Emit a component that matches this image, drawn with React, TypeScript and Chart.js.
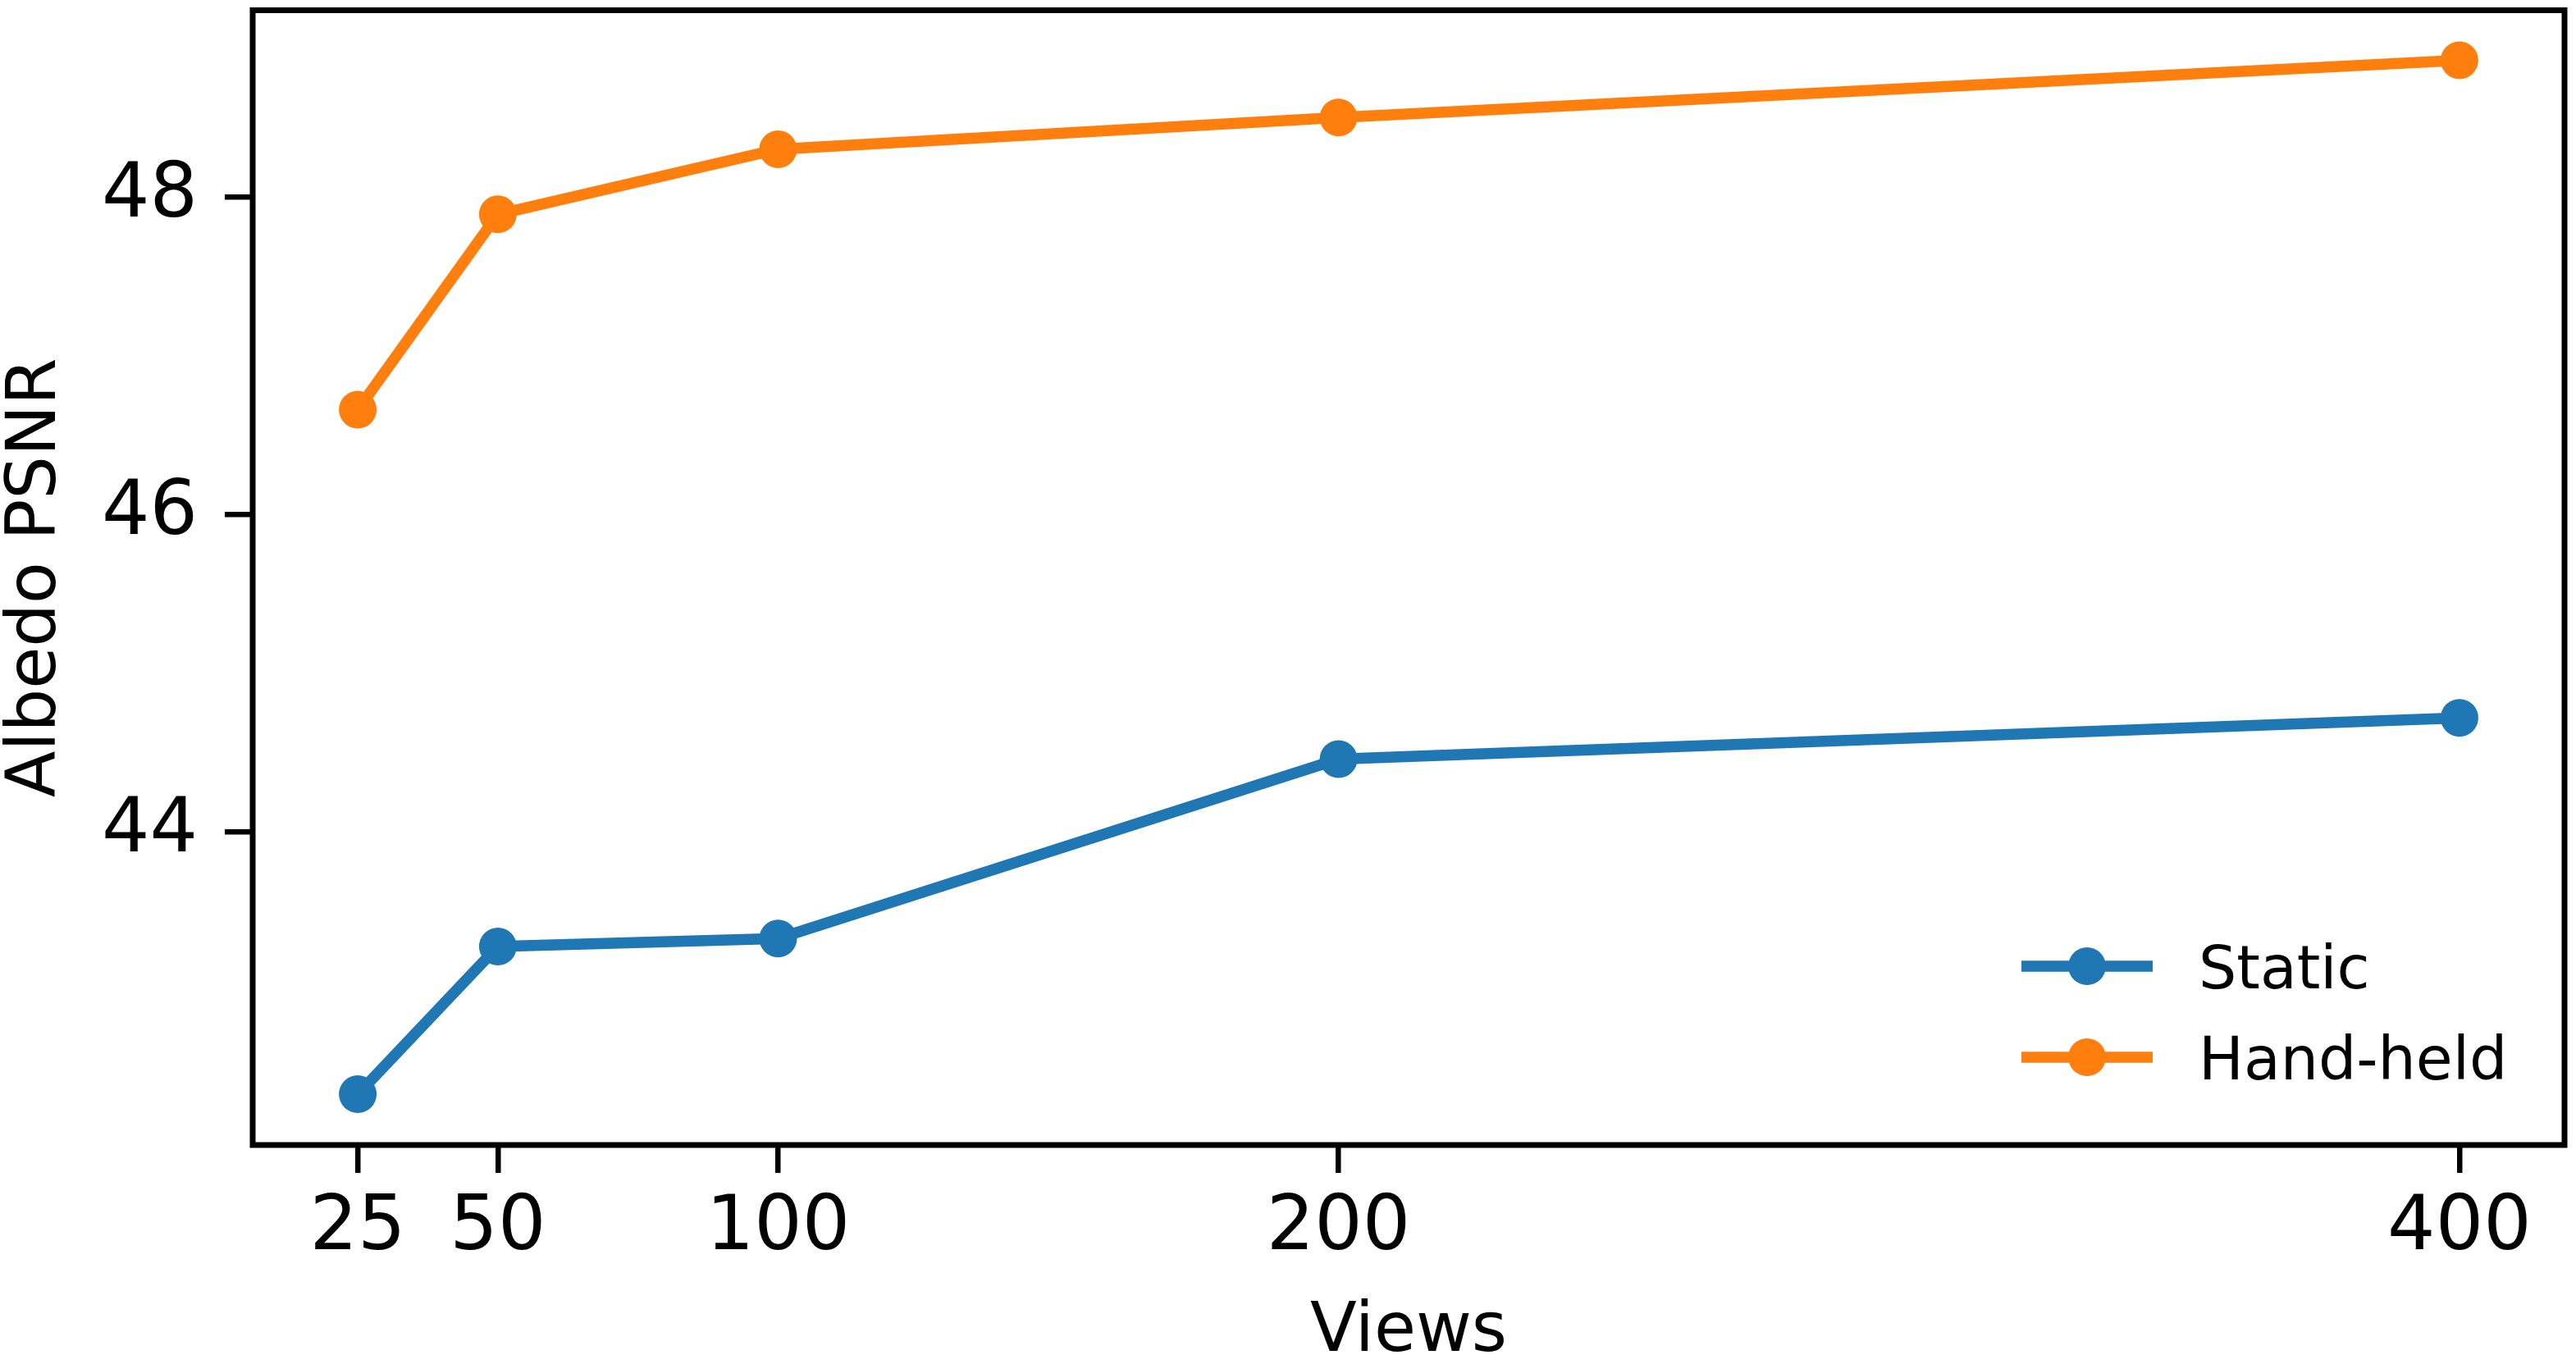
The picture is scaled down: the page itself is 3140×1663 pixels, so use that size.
import React, { useEffect, useRef } from "react";
import { Chart, registerables } from "chart.js";

Chart.register(...registerables);

// Number of views used for reconstruction
const views = [25, 50, 100, 200, 400];
// Albedo PSNR per capture setup
const staticPsnr = [42.35, 43.28, 43.33, 44.46, 44.72];
const handheldPsnr = [46.66, 47.89, 48.3, 48.5, 48.86];

const seriesLabels = ["Static", "Hand-held"];
const seriesColors = ["#1f77b4", "#ff7f0e"];

const xTicks = [25, 50, 100, 200, 400];
const yTicks = [44, 46, 48];

const FONT = "'DejaVu Sans', 'Liberation Sans', sans-serif";

// Outer frame around the plotting area
const framePlugin = {
  id: "frame",
  afterDraw(chart: any) {
    const { ctx, chartArea } = chart;
    ctx.save();
    ctx.strokeStyle = "#000";
    ctx.lineWidth = 7;
    ctx.lineJoin = "miter";
    ctx.strokeRect(
      chartArea.left,
      chartArea.top,
      chartArea.right - chartArea.left,
      chartArea.bottom - chartArea.top
    );
    ctx.restore();
  },
};

// Legend drawn inside the plot, lower right
const insideLegendPlugin = {
  id: "insideLegend",
  afterDraw(chart: any) {
    const { ctx } = chart;
    const rows = [1178, 1289];
    const x0 = 2464;
    const x1 = 2624;
    const textX = 2680;
    ctx.save();
    chart.data.datasets.forEach((ds: any, i: number) => {
      const y = rows[i];
      ctx.strokeStyle = ds.borderColor;
      ctx.lineWidth = 13.5;
      ctx.lineCap = "butt";
      ctx.beginPath();
      ctx.moveTo(x0, y);
      ctx.lineTo(x1, y);
      ctx.stroke();
      ctx.fillStyle = ds.backgroundColor;
      ctx.beginPath();
      ctx.arc((x0 + x1) / 2, y, 23, 0, Math.PI * 2);
      ctx.fill();
      ctx.fillStyle = "#000";
      ctx.font = `73px ${FONT}`;
      ctx.textAlign = "left";
      ctx.textBaseline = "alphabetic";
      ctx.fillText(ds.label, textX, y + 27);
    });
    ctx.restore();
  },
};

// Keep tick-label padding from shrinking the plotting area
const noScalePadding = (scale: any) => {
  scale.paddingTop = 0;
  scale.paddingBottom = 0;
  scale.paddingLeft = 0;
  scale.paddingRight = 0;
};

export default function App() {
  const canvasRef = useRef<HTMLCanvasElement | null>(null);

  useEffect(() => {
    const canvas = canvasRef.current;
    if (!canvas) return;
    const makeSeries = (vals: number[], i: number) => ({
      label: seriesLabels[i],
      data: views.map((v, k) => ({ x: v, y: vals[k] })),
      borderColor: seriesColors[i],
      backgroundColor: seriesColors[i],
      borderWidth: 13.5,
      pointRadius: 23,
      pointHoverRadius: 23,
      pointBorderWidth: 0,
      pointBackgroundColor: seriesColors[i],
      tension: 0,
      fill: false,
    });

    const chart = new Chart(canvas, {
      type: "line",
      data: {
        datasets: [makeSeries(staticPsnr, 0), makeSeries(handheldPsnr, 1)],
      },
      plugins: [framePlugin, insideLegendPlugin],
      options: {
        animation: false,
        responsive: false,
        devicePixelRatio: 1,
        layout: {
          autoPadding: false,
          padding: { top: 12.5, right: 14, left: 0, bottom: 0 },
        },
        plugins: {
          legend: { display: false },
          tooltip: { enabled: false },
        },
        scales: {
          x: {
            type: "linear",
            min: 6.25,
            max: 418.75,
            afterBuildTicks: (scale: any) => {
              scale.ticks = xTicks.map((v) => ({ value: v }));
            },
            afterFit: (scale: any) => {
              scale.height = 267;
              noScalePadding(scale);
            },
            grid: {
              drawOnChartArea: false,
              drawTicks: true,
              tickLength: 34,
              color: "#000",
              lineWidth: 6.5,
            },
            border: { display: false },
            ticks: {
              color: "#000",
              padding: 23,
              maxRotation: 0,
              autoSkip: false,
              font: { family: FONT, size: 92, lineHeight: 1 },
              callback: (v: any) => String(v),
            },
            title: {
              display: true,
              text: "Views",
              color: "#000",
              font: { family: FONT, size: 83, lineHeight: 0.9 },
              padding: { top: 0, bottom: 0 },
            },
          },
          y: {
            type: "linear",
            min: 42.03,
            max: 49.175,
            afterBuildTicks: (scale: any) => {
              scale.ticks = yTicks.map((v) => ({ value: v }));
            },
            afterFit: (scale: any) => {
              scale.width = 308;
              noScalePadding(scale);
            },
            grid: {
              drawOnChartArea: false,
              drawTicks: true,
              tickLength: 34,
              color: "#000",
              lineWidth: 6.5,
            },
            border: { display: false },
            ticks: {
              color: "#000",
              padding: 33,
              autoSkip: false,
              font: { family: FONT, size: 92, lineHeight: 1 },
              callback: (v: any) => String(v),
            },
            title: {
              display: true,
              text: "Albedo PSNR",
              color: "#000",
              font: { family: FONT, size: 83, lineHeight: 0.9 },
              padding: { top: 8, bottom: 0 },
            },
          },
        },
      },
    });
    return () => chart.destroy();
  }, []);

  return (
    <div
      style={{
        position: "fixed",
        left: 0,
        top: 0,
        width: 3140,
        height: 1663,
        background: "#fff",
      }}
    >
      <canvas ref={canvasRef} width={3140} height={1663} style={{ display: "block" }} />
    </div>
  );
}
